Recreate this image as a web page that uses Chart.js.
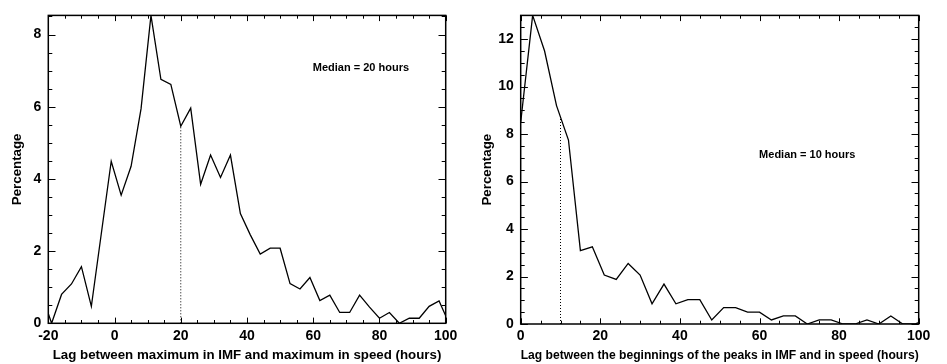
<!DOCTYPE html>
<html>
<head>
<meta charset="utf-8">
<script src="https://cdn.jsdelivr.net/npm/chart.js@4.4.1/dist/chart.umd.min.js"></script>
<style>
  html, body { margin: 0; padding: 0; background: #fff; }
  #wrap { position: relative; width: 947px; height: 364px; }
  canvas { position: absolute; top: 0; }
</style>
</head>
<body>
<div id="wrap">
  <canvas id="c1" width="470" height="364" style="left:0px"></canvas>
  <canvas id="c2" width="477" height="364" style="left:470px"></canvas>
</div>
<script>
// ---------- Left panel data ----------
const lagLeft = [-22, -19, -16, -13, -10, -7, -4, -1, 2, 5, 8, 11, 14, 17, 20, 23, 26, 29, 32, 35, 38, 41, 44, 47, 50, 53, 56, 59, 62, 65, 68, 71, 74, 77, 80, 83, 86, 89, 92, 95, 98, 101];
const pctLeft = [0.8, 0, 0.80, 1.09, 1.57, 0.47, 2.48, 4.49, 3.55, 4.35, 5.94, 8.53, 6.76, 6.62, 5.46, 5.96, 3.85, 4.66, 4.04, 4.66, 3.04, 2.45, 1.92, 2.08, 2.08, 1.10, 0.95, 1.27, 0.63, 0.78, 0.30, 0.30, 0.78, 0.45, 0.14, 0.30, 0, 0.14, 0.14, 0.47, 0.62, 0];
const medianLeft = 20;
const medianLeftTop = 5.46;
const labelLeft = 'Median = 20 hours';
const xTitleLeft = 'Lag between maximum in IMF and maximum in speed (hours)';

// ---------- Right panel data ----------
const lagRight = [0, 3, 6, 9, 12, 15, 18, 21, 24, 27, 30, 33, 36, 39, 42, 45, 48, 51, 54, 57, 60, 63, 66, 69, 72, 75, 78, 81, 84, 87, 90, 93, 96, 99, 102];
const pctRight = [8.5, 13.0, 11.5, 9.2, 7.75, 3.09, 3.25, 2.06, 1.88, 2.55, 2.06, 0.85, 1.68, 0.85, 1.03, 1.03, 0.17, 0.69, 0.69, 0.50, 0.50, 0.17, 0.34, 0.34, 0, 0.17, 0.17, 0, 0, 0.17, 0, 0.34, 0, 0, 0.17];
const medianRight = 10;
const medianRightTop = 8.72;
const labelRight = 'Median = 10 hours';
const xTitleRight = 'Lag between the beginnings of the peaks in IMF and in speed (hours)';
const yTitle = 'Percentage';

const FONT = "'Liberation Sans', Arial, Helvetica, sans-serif";

const framePlugin = {
  id: 'frame',
  afterDatasetsDraw(chart, args, o) {
    const { ctx, chartArea: { left, right, top, bottom }, scales: { x, y } } = chart;
    ctx.save();
    ctx.strokeStyle = '#000';
    ctx.lineWidth = 1;
    const xMajors = x.ticks.map(t => t.value);
    const yMajors = y.ticks.map(t => t.value);
    const isMaj = (arr, v) => arr.some(m => Math.abs(m - v) < 1e-6);
    ctx.beginPath();
    for (let v = x.min; v <= x.max + 1e-9; v += o.xMinor) {
      const px = Math.round(x.getPixelForValue(v)) + 0.5;
      const len = isMaj(xMajors, v) ? o.xMajLen : o.xMinLen;
      ctx.moveTo(px, bottom); ctx.lineTo(px, bottom - len);
      ctx.moveTo(px, top); ctx.lineTo(px, top + len);
    }
    for (let v = y.min; v <= y.max + 1e-9; v += o.yMinor) {
      const py = Math.round(y.getPixelForValue(v)) + 0.5;
      const len = isMaj(yMajors, v) ? o.yMajLen : o.yMinLen;
      ctx.moveTo(left, py); ctx.lineTo(left + len, py);
      ctx.moveTo(right, py); ctx.lineTo(right - len, py);
    }
    ctx.stroke();
    ctx.lineWidth = 1.5;
    ctx.strokeRect(left, top, right - left, bottom - top);
    // median label
    ctx.fillStyle = '#000';
    ctx.font = 'bold 11px ' + FONT;
    ctx.textAlign = 'center';
    ctx.textBaseline = 'middle';
    ctx.fillText(o.label, x.getPixelForValue(o.labelX), y.getPixelForValue(o.labelY));
    ctx.restore();
  }
};

function makeChart(id, lags, pcts, median, medianTop, yMax, xMin, xMax, xTitle, label, labelX, labelY, padRight, yWidth, xHeight) {
  const pts = lags.map((l, i) => ({ x: l, y: pcts[i] }));
  return new Chart(document.getElementById(id), {
    type: 'line',
    data: {
      datasets: [
        { data: pts, borderColor: '#000', borderWidth: 1.3, pointRadius: 0, tension: 0, fill: false, clip: 0 },
        { data: [{ x: median, y: 0 }, { x: median, y: medianTop }], borderColor: '#000', borderWidth: 1, borderDash: [1, 2], pointRadius: 0, fill: false, clip: 0 }
      ]
    },
    options: {
      responsive: false,
      animation: false,
      events: [],
      layout: { padding: { left: 0, right: padRight, top: 10, bottom: 0 } },
      plugins: {
        legend: { display: false },
        tooltip: { enabled: false },
        frame: { xMinor: 5, xMajLen: 5.7, xMinLen: 3.3, yMinor: 0.5, yMajLen: 7.2, yMinLen: 4, label: label, labelX: labelX, labelY: labelY }
      },
      scales: {
        x: {
          type: 'linear', min: xMin, max: xMax,
          grid: { display: false, drawTicks: false },
          border: { display: false },
          ticks: { stepSize: 20, includeBounds: false, color: '#000', padding: 4, maxRotation: 0, font: { family: FONT, size: 14, weight: 'bold' } },
          title: { display: true, text: xTitle, color: '#000', padding: { top: 0, bottom: 1 }, font: { family: FONT, size: 13.3, weight: 'bold' } },
          afterFit(s) { s.height = xHeight; }
        },
        y: {
          type: 'linear', min: 0, max: yMax,
          grid: { display: false, drawTicks: false },
          border: { display: false },
          ticks: { stepSize: 2, includeBounds: false, color: '#000', padding: 7, font: { family: FONT, size: 14, weight: 'bold' } },
          title: { display: true, text: yTitle, color: '#000', padding: { top: 9, bottom: 0 }, font: { family: FONT, size: 13.3, weight: 'bold' } },
          afterFit(s) { s.width = yWidth; }
        }
      }
    },
    plugins: [framePlugin]
  });
}

makeChart('c1', lagLeft, pctLeft, medianLeft, medianLeftTop, 8.53, -20, 100, xTitleLeft, labelLeft, 74.4, 7.08, 24.3, 48.3, 40.7);
makeChart('c2', lagRight, pctRight, medianRight, medianRightTop, 13, 0, 100, xTitleRight, labelRight, 72, 7.13, 28.3, 50.7, 40);
</script>
</body>
</html>
